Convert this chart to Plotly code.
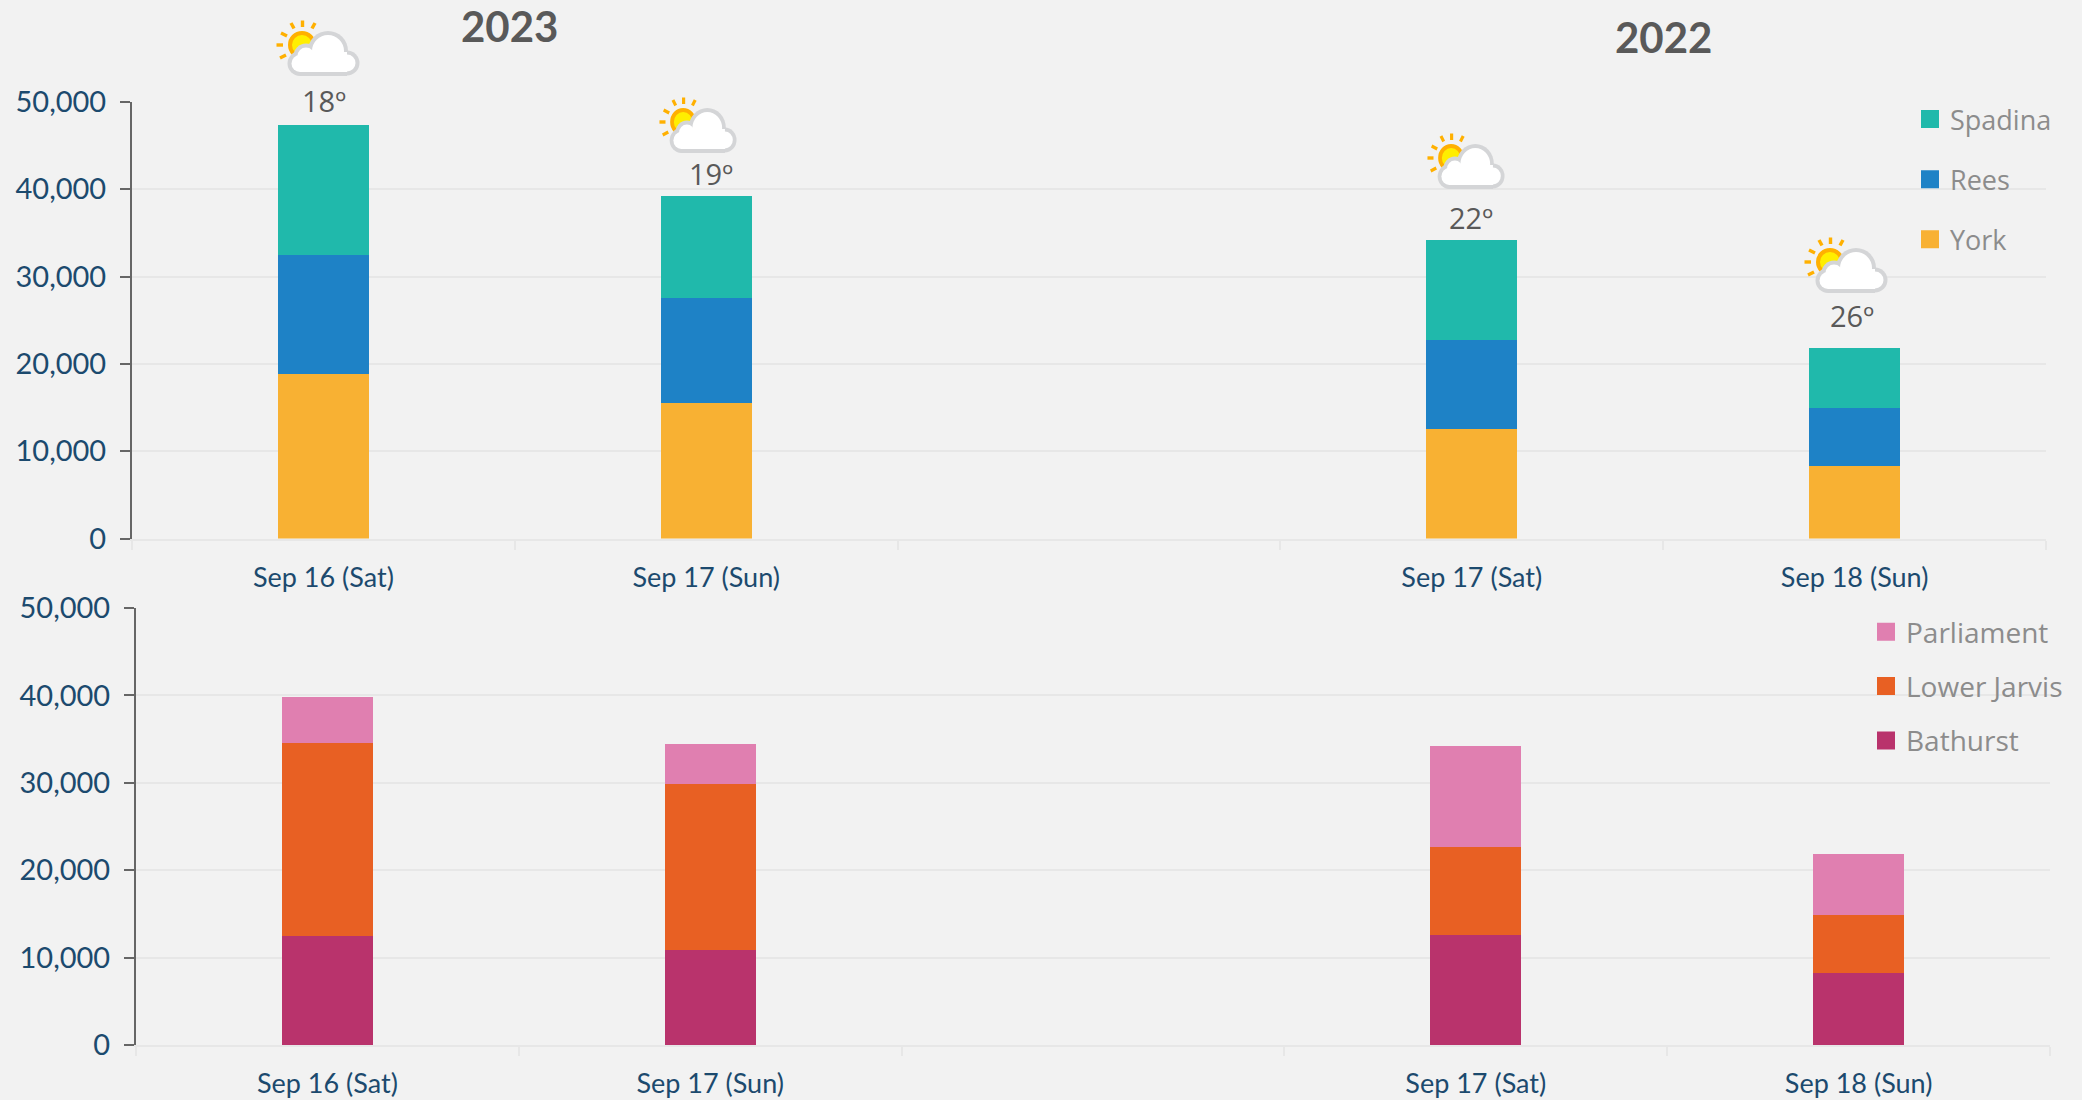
import base64
import plotly.graph_objects as go

W, H = 2082, 1100

tick_positions = [0, 1, 3, 4]
day_labels = ["Sep 16 (Sat)", "Sep 17 (Sun)", "Sep 17 (Sat)", "Sep 18 (Sun)"]
york = [18800, 15500, 12600, 8300]
rees = [13700, 12000, 10100, 6600]
spadina = [14900, 11700, 11500, 6900]
bathurst = [12500, 10900, 12600, 8200]
lower_jarvis = [22100, 19000, 10100, 6700]
parliament = [5200, 4500, 11500, 6900]
temperatures = ["18º", "19º", "22º", "26º"]
y_ticks = [0, 10000, 20000, 30000, 40000, 50000]

BG = "#f2f2f2"
GRID = "#e7e7e7"
NAVY = "#1c4a6e"
TICK_FONT = "Lato"
SIDE_FONT = "Open Sans"


def px(x):
    return x / W


def py(y):
    return 1 - y / H


icon_svg = """<svg xmlns="http://www.w3.org/2000/svg" viewBox="0 0 84 56" preserveAspectRatio="none">
<g stroke="#ffb000" stroke-width="3.4" fill="none">
<line x1="26.5" y1="0.5" x2="26.5" y2="7"/><line x1="39" y1="3" x2="36" y2="8.5"/>
<line x1="15" y1="3" x2="18" y2="8.5"/><line x1="5" y1="13" x2="11" y2="16"/>
<line x1="0.5" y1="25" x2="7" y2="25"/><line x1="4" y1="38" x2="10" y2="35"/>
</g>
<circle cx="26" cy="25" r="12" fill="#ffee00" stroke="#ffb000" stroke-width="4"/>
<g fill="#d4d5d7">
<circle cx="52" cy="31" r="20"/><circle cx="30" cy="36" r="12.5"/>
<circle cx="24" cy="43.5" r="12.5"/><circle cx="71" cy="43" r="12.5"/>
<rect x="24" y="32" width="47" height="24"/>
</g>
<g fill="#ffffff">
<circle cx="52" cy="31" r="16"/><circle cx="30" cy="36" r="8.5"/>
<circle cx="24" cy="43.5" r="8.5"/><circle cx="71" cy="43" r="8.5"/>
<rect x="24" y="32" width="47" height="20"/>
</g>
</svg>"""
icon_uri = "data:image/svg+xml;base64," + base64.b64encode(icon_svg.encode()).decode()

fig = go.Figure()


def add_stack(xa, ya, rows):
    for name, values, color in rows:
        fig.add_trace(go.Bar(
            x=tick_positions, y=values, name=name, width=0.238,
            marker=dict(color=color, line=dict(width=0)),
            xaxis=xa, yaxis=ya, showlegend=False, legendgroup=name,
            hovertemplate="%{y:,}<extra>" + name + "</extra>",
        ))


def add_legend_rows(legend, rows):
    for name, _, color in reversed(rows):
        fig.add_trace(go.Scatter(
            x=[None], y=[None], mode="markers", name=name, legend=legend, legendgroup=name,
            marker=dict(symbol="square", size=16, color=color, line=dict(color=color, width=2)),
        ))


top_rows = [("York", york, "#f8b133"), ("Rees", rees, "#1e82c6"), ("Spadina", spadina, "#20b9ab")]
bottom_rows = [("Bathurst", bathurst, "#b9336c"), ("Lower Jarvis", lower_jarvis, "#e86023"),
               ("Parliament", parliament, "#e07fb0")]
add_stack("x", "y", top_rows)
add_stack("x2", "y2", bottom_rows)
add_legend_rows("legend", top_rows)
add_legend_rows("legend2", bottom_rows)


def x_axis(x0, x1, anchor):
    return dict(
        domain=[px(x0), px(x1)], anchor=anchor, range=[-0.5, 4.5], automargin=False,
        tickmode="array", tickvals=tick_positions, ticktext=day_labels,
        ticks="", ticklen=0, ticklabelstandoff=14, showgrid=False, zeroline=False,
        showline=True, linecolor=GRID, linewidth=2,
        tickfont=dict(family=TICK_FONT, size=27, color=NAVY),
        minor=dict(tickmode="array", tickvals=[-0.5, 0.5, 1.5, 2.5, 3.5, 4.5],
                   ticks="outside", ticklen=9, tickwidth=2, tickcolor=GRID, showgrid=False),
    )


def y_axis(y_top, y_bottom, anchor):
    return dict(
        domain=[py(y_bottom), py(y_top)], anchor=anchor, range=[0, 50000], automargin=False,
        tickmode="array", tickvals=y_ticks, tickformat=",",
        ticks="outside", ticklen=10, tickwidth=2, tickcolor="#666666", ticklabelstandoff=8,
        showline=True, linecolor="#666666", linewidth=2,
        showgrid=True, gridcolor=GRID, gridwidth=2, zeroline=False,
        tickfont=dict(family=TICK_FONT, size=29, color=NAVY),
    )


annotations = [
    dict(text="<b>2023</b>", xref="paper", yref="paper", x=px(509), y=py(26), showarrow=False,
         xanchor="center", yanchor="middle", font=dict(family=TICK_FONT, size=42, color="#595959")),
    dict(text="<b>2022</b>", xref="paper", yref="paper", x=px(1663), y=py(37), showarrow=False,
         xanchor="center", yanchor="middle", font=dict(family=TICK_FONT, size=42, color="#595959")),
]
label_gaps = [3, 1, 1, 11]
label_nudges = [1, 5, -1, -3]
for x, a, b, c, t, gap, nudge in zip(tick_positions, york, rees, spadina, temperatures, label_gaps, label_nudges):
    annotations.append(dict(text=t, xref="x", yref="y", x=x, y=a + b + c, showarrow=False,
                            xanchor="center", yanchor="bottom", yshift=gap, xshift=nudge,
                            font=dict(family=SIDE_FONT, size=29, color="#595959")))

images = [dict(source=icon_uri, xref="paper", yref="paper", x=px(l), y=py(t),
               sizex=(r - l) / W, sizey=(b - t) / H, sizing="stretch",
               xanchor="left", yanchor="top", layer="above")
          for l, r, t, b in [(276, 360, 20, 76), (659, 737, 97, 153),
                             (1427, 1505, 133, 189), (1804, 1888, 237, 293)]]

fig.update_layout(
    template="none",
    width=W, height=H, margin=dict(l=0, r=0, t=0, b=0), autosize=False,
    paper_bgcolor=BG, plot_bgcolor=BG, barmode="stack", bargap=0,
    font=dict(family=TICK_FONT),
    xaxis=x_axis(132, 2046, "y"), yaxis=y_axis(102, 538.5, "x"),
    xaxis2=x_axis(136, 2050, "y2"), yaxis2=y_axis(608, 1045, "x2"),
    annotations=annotations, images=images,
    legend=dict(x=px(1910), y=py(95), xanchor="left", yanchor="top",
                font=dict(family=SIDE_FONT, size=27, color="#8c8c8c"),
                bgcolor="rgba(0,0,0,0)", tracegroupgap=22, traceorder="grouped"),
    legend2=dict(x=px(1866), y=py(607), xanchor="left", yanchor="top",
                 font=dict(family=SIDE_FONT, size=28, color="#8c8c8c"),
                 bgcolor="rgba(0,0,0,0)", tracegroupgap=15, traceorder="grouped"),
    showlegend=True,
)

fig.write_html("out.html", config=dict(displayModeBar=False),
               post_script="document.body.style.margin='0';document.documentElement.style.overflow='hidden';")
